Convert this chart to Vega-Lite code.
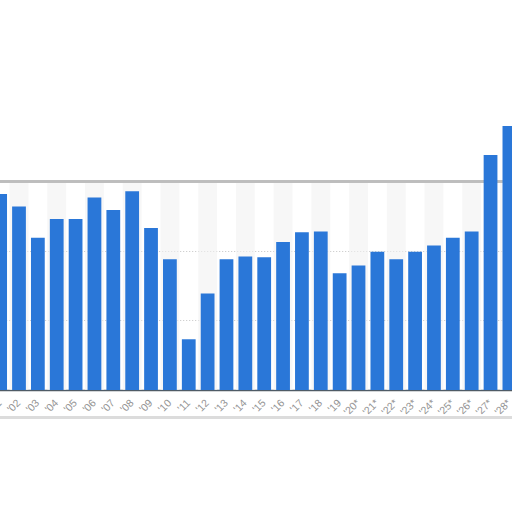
{
  "$schema": "https://vega.github.io/schema/vega-lite/v6.json",
  "width": 512,
  "height": 390,
  "autosize": "none",
  "padding": {"left": 0, "top": 0, "right": 0, "bottom": 122},
  "background": "white",
  "data": {
    "values": [
      {"year": 2001, "value": 282},
      {"year": 2002, "value": 264},
      {"year": 2003, "value": 219},
      {"year": 2004, "value": 246},
      {"year": 2005, "value": 246},
      {"year": 2006, "value": 277},
      {"year": 2007, "value": 259},
      {"year": 2008, "value": 286},
      {"year": 2009, "value": 233},
      {"year": 2010, "value": 188},
      {"year": 2011, "value": 73},
      {"year": 2012, "value": 139},
      {"year": 2013, "value": 188},
      {"year": 2014, "value": 192},
      {"year": 2015, "value": 191},
      {"year": 2016, "value": 213},
      {"year": 2017, "value": 227},
      {"year": 2018, "value": 228},
      {"year": 2019, "value": 168},
      {"year": 2020, "value": 179},
      {"year": 2021, "value": 199},
      {"year": 2022, "value": 188},
      {"year": 2023, "value": 199},
      {"year": 2024, "value": 208},
      {"year": 2025, "value": 219},
      {"year": 2026, "value": 228},
      {"year": 2027, "value": 338},
      {"year": 2028, "value": 380}
    ]
  },
  "layer": [
    {
      "transform": [{"filter": "datum.year % 2 == 0"}],
      "mark": {"type": "bar", "width": {"band": 1}, "color": "#f2f2f2", "opacity": 0.6},
      "encoding": {
        "x": {"field": "year", "type": "ordinal", "title": null,
              "scale": {"range": [-9.29, 518.83], "paddingInner": 0, "paddingOuter": 0},
              "axis": {"labelAngle": 315}},
        "y": {"datum": 300, "type": "quantitative", "title": null,
              "scale": {"domain": [0, 561.15], "nice": false},
              "axis": {"values": [100, 200]}},
        "y2": {"datum": 0}
      }
    },
    {
      "mark": {"type": "rule", "color": "#bdbdbd", "strokeWidth": 2},
      "encoding": {"y": {"datum": 300, "type": "quantitative", "title": null}}
    },
    {
      "mark": {"type": "rule", "color": "#dcdcdc", "strokeWidth": 2},
      "encoding": {"y": {"datum": -39.5, "type": "quantitative", "title": null}}
    },
    {
      "mark": {"type": "bar", "width": {"band": 0.73}, "color": "#2a77d8"},
      "encoding": {
        "x": {"field": "year", "type": "ordinal", "title": null,
              "axis": {"labelAngle": 315}},
        "y": {"field": "value", "type": "quantitative", "title": null,
              "axis": {"values": [100, 200]}}
      }
    }
  ],
  "config": {
    "view": {"stroke": null},
    "axisX": {
      "labelExpr": "\"'\" + substring(toString(datum.value), 2) + (datum.value >= 2020 ? '*' : '')",
      "labelAlign": "right",
      "labelBaseline": "middle",
      "labelFont": "Liberation Sans",
      "labelFontSize": 10.5,
      "labelColor": "#939393",
      "labelPadding": 11,
      "ticks": false,
      "domainColor": "#4f5b66",
      "domainWidth": 1.5,
      "grid": false
    },
    "axisY": {
      "grid": true,
      "gridDash": [1, 2],
      "gridColor": "#c4c4c4",
      "labels": false,
      "ticks": false,
      "domain": false
    }
  }
}
